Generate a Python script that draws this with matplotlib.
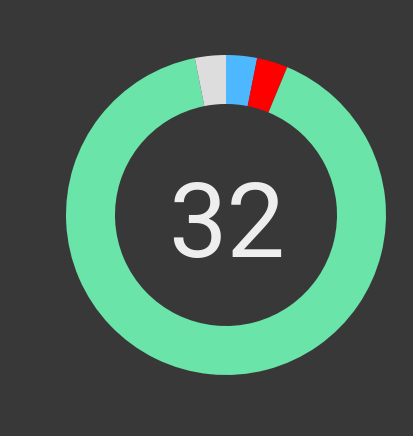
import matplotlib
matplotlib.use("Agg")
import matplotlib.pyplot as plt

# segment data, clockwise from 12 o'clock
labels = ["blue", "red", "green", "grey"]
counts = [1, 1, 29, 1]
colors = ["#4db8ff", "#ff0000", "#6ae4a8", "#dddddd"]
total_label = "32"

bg = "#383838"

fig = plt.figure(figsize=(4.14, 4.36), dpi=100)
fig.patch.set_facecolor(bg)
ax = fig.add_axes([0, 0, 1, 1])
ax.set_facecolor(bg)

cx, cy = 226, 436 - 215
r_out, r_in = 160, 111

ax.pie(counts, colors=colors, startangle=90, counterclock=False,
       center=(cx, cy), radius=r_out, frame=True,
       wedgeprops=dict(width=r_out - r_in, linewidth=0))

ax.text(cx + 1, 436 - 257, total_label, ha="center", va="baseline",
        fontsize=75, color="#eeeeee", family="Roboto", fontweight="normal")

ax.set_xlim(0, 414)
ax.set_ylim(0, 436)
ax.set_aspect("equal")
ax.axis("off")

fig.savefig("out.png", dpi=100, facecolor=bg)
